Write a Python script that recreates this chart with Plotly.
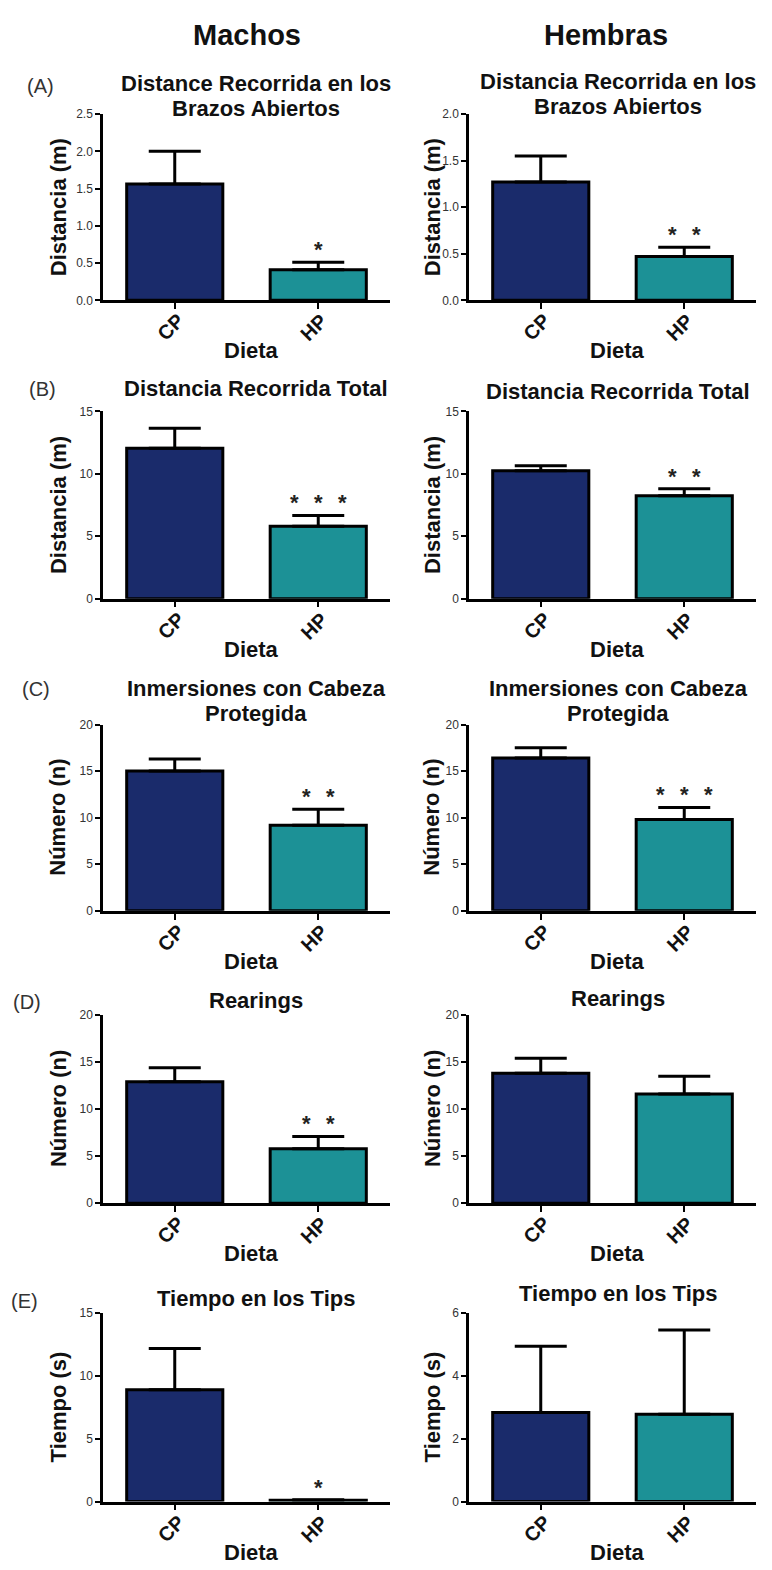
import plotly.graph_objects as go

W, H = 772, 1570

# ---------------- data ----------------
categories = ["CP", "HP"]
panel_letters = ["(A)", "(B)", "(C)", "(D)", "(E)"]

machos_titles = ["Distance Recorrida en los<br>Brazos Abiertos", "Distancia Recorrida Total",
                 "Inmersiones con Cabeza<br>Protegida", "Rearings", "Tiempo en los Tips"]
hembras_titles = ["Distancia Recorrida en los<br>Brazos Abiertos", "Distancia Recorrida Total",
                  "Inmersiones con Cabeza<br>Protegida", "Rearings", "Tiempo en los Tips"]
y_titles = ["Distancia (m)", "Distancia (m)", "Número (n)", "Número (n)", "Tiempo (s)"]

machos_cp_mean = [1.56, 12.05, 15.0, 12.9, 8.9]
machos_cp_sem = [0.44, 1.60, 1.3, 1.5, 3.3]
machos_hp_mean = [0.41, 5.8, 9.2, 5.8, 0.10]
machos_hp_sem = [0.10, 0.87, 1.7, 1.3, 0.05]
machos_sig = ["*", "***", "**", "**", "*"]
machos_ymax = [2.5, 15, 20, 20, 15]
machos_dtick = [0.5, 5, 5, 5, 5]

hembras_cp_mean = [1.27, 10.24, 16.4, 13.8, 2.84]
hembras_cp_sem = [0.28, 0.40, 1.1, 1.6, 2.11]
hembras_hp_mean = [0.47, 8.25, 9.8, 11.6, 2.78]
hembras_hp_sem = [0.10, 0.55, 1.3, 1.9, 2.69]
hembras_sig = ["**", "**", "***", "", ""]
hembras_ymax = [2.0, 15, 20, 20, 6]
hembras_dtick = [0.5, 5, 5, 5, 2]

# ---------------- style / layout ----------------
FONT = "Arial, Liberation Sans, sans-serif"
CP_COLOR = "#1a2b6b"
HP_COLOR = "#1c9196"

row_top = [108, 408, 724, 1017, 1318]
row_bot = [296, 597, 912, 1207, 1508]
col_x = [(103, 390), (469, 756)]


def fx(px):
    return px / W


def fy(py):
    return 1 - py / H


fig = go.Figure()
annotations = []

columns = [
    dict(titles=machos_titles, cp=machos_cp_mean, cps=machos_cp_sem, hp=machos_hp_mean, hps=machos_hp_sem,
         sig=machos_sig, ymax=machos_ymax, dtick=machos_dtick, title_x=256, ytitle_x=58,
         title_y=[(77, 102), (385,), (688, 713), (1002,), (1303,)]),
    dict(titles=hembras_titles, cp=hembras_cp_mean, cps=hembras_cp_sem, hp=hembras_hp_mean, hps=hembras_hp_sem,
         sig=hembras_sig, ymax=hembras_ymax, dtick=hembras_dtick, title_x=618, ytitle_x=432,
         title_y=[(75, 100), (388,), (688, 713), (1000,), (1298,)]),
]

k = 0
for c, col in enumerate(columns):
    x0, x1 = col_x[c]
    for r in range(5):
        k += 1
        xa = "x" if k == 1 else f"x{k}"
        ya = "y" if k == 1 else f"y{k}"
        means = [col["cp"][r], col["hp"][r]]
        sems = [col["cps"][r], col["hps"][r]]
        fig.add_trace(go.Bar(
            x=categories, y=means, width=0.67,
            marker=dict(color=[CP_COLOR, HP_COLOR], line=dict(color="black", width=3)),
            error_y=dict(type="data", symmetric=False, array=sems, arrayminus=[0, 0],
                         color="black", thickness=3, width=26),
            xaxis=xa, yaxis=ya, showlegend=False, hoverinfo="skip",
        ))
        axkey = "" if k == 1 else str(k)
        fig.update_layout(**{
            f"xaxis{axkey}": dict(
                domain=[fx(x0), fx(x1)], anchor=ya, type="category", range=[-0.5, 1.5],
                showline=True, linewidth=2.5, linecolor="black", ticks="outside", ticklen=6,
                tickwidth=2, tickcolor="black", showticklabels=False, showgrid=False, zeroline=False,
            ),
            f"yaxis{axkey}": dict(
                domain=[fy(row_bot[r]), fy(row_top[r])], anchor=xa, range=[0, col["ymax"][r]],
                tick0=0, dtick=col["dtick"][r], tickformat=".1f" if col["dtick"][r] < 1 else "d",
                showline=True, linewidth=2.5, linecolor="black", ticks="outside", ticklen=5,
                tickwidth=2, tickcolor="black", showgrid=False, zeroline=False,
                tickfont=dict(family=FONT, size=12, color="#333333"),
            ),
        })
        # rotated category labels
        for cat in categories:
            annotations.append(dict(
                x=cat, y=0, xref=xa, yref=ya, text=f"<b>{cat}</b>", textangle=-45,
                showarrow=False, xanchor="center", yanchor="middle", xshift=-4, yshift=-27,
                font=dict(family=FONT, size=20, color="#111111"),
            ))
        # significance stars
        s = col["sig"][r]
        n = len(s)
        for i in range(n):
            annotations.append(dict(
                x=categories[1], y=means[1] + sems[1], xref=xa, yref=ya,
                text="<b>*</b>", showarrow=False, yanchor="bottom", xanchor="center",
                xshift=(i - (n - 1) / 2) * 24, yshift=-2,
                font=dict(family=FONT, size=22, color="#222222"),
            ))
        # subplot title lines
        lines = col["titles"][r].split("<br>")
        for line, ly in zip(lines, col["title_y"][r]):
            annotations.append(dict(
                x=fx(col["title_x"]), y=fy(ly), xref="paper", yref="paper", text=f"<b>{line}</b>",
                showarrow=False, xanchor="center", yanchor="middle",
                font=dict(family=FONT, size=22, color="#111111"),
            ))
        # y-axis title
        annotations.append(dict(
            x=fx(col["ytitle_x"]), y=fy((row_top[r] + row_bot[r]) / 2), xref="paper", yref="paper",
            text=f"<b>{y_titles[r]}</b>", textangle=-90, showarrow=False,
            xanchor="center", yanchor="middle", font=dict(family=FONT, size=22, color="#111111"),
        ))
        # x-axis title
        annotations.append(dict(
            x=fx((x0 + x1) / 2 + 5), y=fy(row_bot[r] + 51), xref="paper", yref="paper",
            text="<b>Dieta</b>", showarrow=False, xanchor="center", yanchor="middle",
            font=dict(family=FONT, size=22, color="#111111"),
        ))

# panel letters
letter_pos = [(40, 80), (42, 385), (36, 688), (27, 1004), (25, 1306)]
for lt, (lx, ly) in zip(panel_letters, letter_pos):
    annotations.append(dict(
        x=fx(lx), y=fy(ly), xref="paper", yref="paper", text=lt, showarrow=False,
        xanchor="center", yanchor="middle", font=dict(family=FONT, size=20, color="#333333"),
    ))

# column headers
for txt, hx in [("Machos", 247), ("Hembras", 606)]:
    annotations.append(dict(
        x=fx(hx), y=fy(28), xref="paper", yref="paper", text=f"<b>{txt}</b>", showarrow=False,
        xanchor="center", yanchor="middle", font=dict(family=FONT, size=29, color="#111111"),
    ))

fig.update_layout(
    width=W, height=H, margin=dict(l=0, r=0, t=0, b=0),
    paper_bgcolor="white", plot_bgcolor="white",
    font=dict(family=FONT), annotations=annotations, bargap=0.33,
)

fig.write_html("out.html")
